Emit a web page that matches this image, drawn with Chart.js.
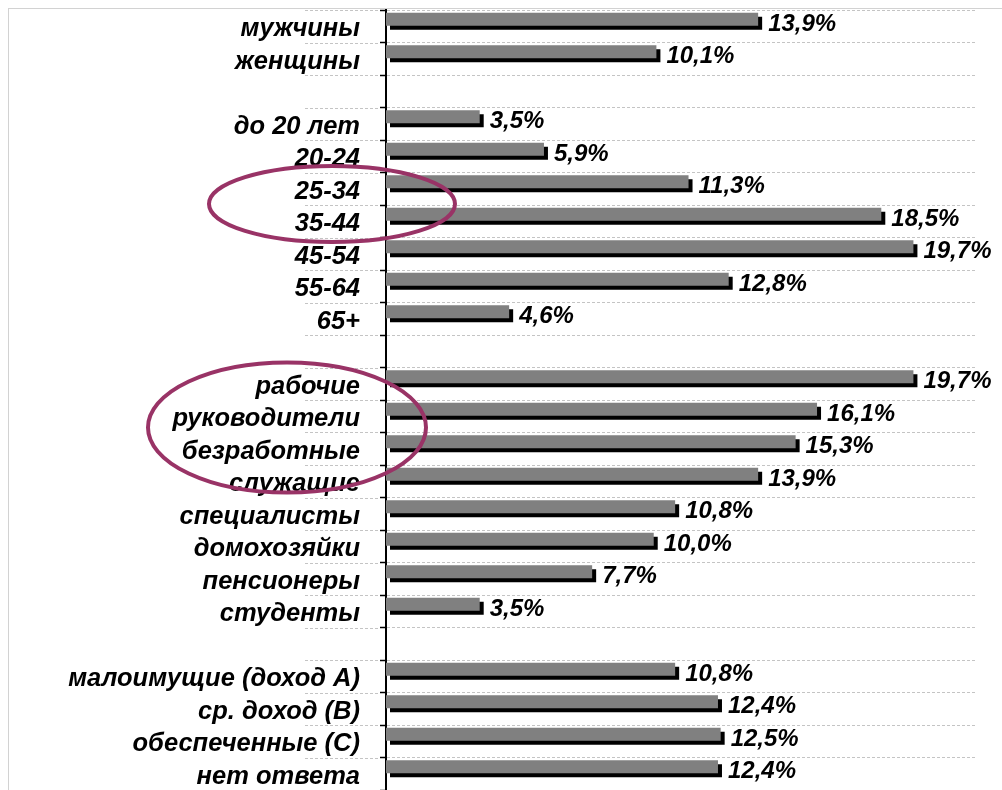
<!DOCTYPE html>
<html>
<head>
<meta charset="utf-8">
<script src="https://cdn.jsdelivr.net/npm/chart.js@4.4.1/dist/chart.umd.min.js"></script>
<style>
  html, body { margin: 0; padding: 0; background: #fff; }
  #wrap { position: relative; width: 1002px; height: 790px; overflow: hidden; }
  #frame { position: absolute; left: 8px; top: 8px; width: 1100px; height: 900px;
           border-left: 1px solid #d2d2d2; border-top: 1px solid #d2d2d2; }
  canvas { position: absolute; left: 0; top: 0; }
</style>
</head>
<body>
<div id="wrap">
  <div id="frame"></div>
  <canvas id="chart" width="1002" height="790"></canvas>
</div>
<script>
// Categories, top to bottom ('' = empty spacer row between groups)
const categories = [
    'мужчины', 'женщины', '',
    'до 20 лет', '20-24', '25-34', '35-44', '45-54', '55-64', '65+', '',
    'рабочие', 'руководители', 'безработные', 'служащие', 'специалисты',
    'домохозяйки', 'пенсионеры', 'студенты', '',
    'малоимущие (доход А)', 'ср. доход (В)', 'обеспеченные (С)', 'нет ответа'
];

// Share, %
const shares = [
    13.9, 10.1, null,
    3.5, 5.9, 11.3, 18.5, 19.7, 12.8, 4.6, null,
    19.7, 16.1, 15.3, 13.9, 10.8, 10.0, 7.7, 3.5, null,
    10.8, 12.4, 12.5, 12.4
];

// Highlighted groups (first and last category of each ellipse)
const highlights = [
    ['25-34', '35-44'],
    ['рабочие', 'служащие']
];

const fontFamily = '"Liberation Sans", Arial, sans-serif';
const valueFont = 'italic bold 24px ' + fontFamily;

// gray bars with a hard black drop shadow, sitting a little above the row centre
const barShadow = {
    id: 'barShadow',
    beforeDatasetsDraw(chart) {
        const ctx = chart.ctx;
        ctx.save();
        ctx.translate(0, -7);
        ctx.shadowColor = '#000';
        ctx.shadowBlur = 0;
        ctx.shadowOffsetX = 4;
        ctx.shadowOffsetY = 4;
    },
    afterDatasetsDraw(chart) {
        chart.ctx.restore();
    }
};

// dashed grid lines run on into the label column
const gridExtend = {
    id: 'gridExtend',
    beforeDatasetsDraw(chart) {
        const ctx = chart.ctx;
        const y = chart.scales.y;
        const left = chart.chartArea.left;
        ctx.save();
        ctx.strokeStyle = '#c4c4c4';
        ctx.lineWidth = 1;
        ctx.setLineDash([3, 2]);
        for (let i = 0; i <= categories.length; i++) {
            const py = Math.round(y.getPixelForValue(i - 0.5)) + 0.5;
            ctx.beginPath();
            ctx.moveTo(left - 81, py);
            ctx.lineTo(left - 7, py);
            ctx.stroke();
        }
        ctx.restore();
    }
};

// value labels like "13,9%"
const valueLabels = {
    id: 'valueLabels',
    afterDatasetsDraw(chart) {
        const ctx = chart.ctx;
        const meta = chart.getDatasetMeta(0);
        ctx.save();
        ctx.font = valueFont;
        ctx.fillStyle = '#000';
        ctx.textAlign = 'left';
        ctx.textBaseline = 'middle';
        meta.data.forEach((bar, i) => {
            const v = shares[i];
            if (v === null) return;
            ctx.fillText(v.toFixed(1).replace('.', ',') + '%', bar.x + 10, bar.y - 2);
        });
        ctx.restore();
    }
};

// purple ellipses around highlighted labels
const ellipses = {
    id: 'ellipses',
    afterDraw(chart) {
        const ctx = chart.ctx;
        const y = chart.scales.y;
        const left = chart.chartArea.left;
        const boxes = [
            { cx: left - 54, rx: 123, ry: 38, dy: -1 },
            { cx: left - 99, rx: 139, ry: 65, dy: -5 }
        ];
        ctx.save();
        ctx.strokeStyle = '#993366';
        ctx.lineWidth = 4;
        highlights.forEach((h, k) => {
            const y1 = y.getPixelForValue(categories.indexOf(h[0]));
            const y2 = y.getPixelForValue(categories.indexOf(h[1]));
            const b = boxes[k];
            ctx.beginPath();
            ctx.ellipse(b.cx, (y1 + y2) / 2 + b.dy, b.rx, b.ry, 0, 0, Math.PI * 2);
            ctx.stroke();
        });
        ctx.restore();
    }
};

new Chart(document.getElementById('chart'), {
    type: 'bar',
    data: {
        labels: categories,
        datasets: [{
            data: shares,
            backgroundColor: '#808080',
            borderWidth: 0,
            categoryPercentage: 0.8,
            barPercentage: 0.5
        }]
    },
    options: {
        indexAxis: 'y',
        responsive: false,
        animation: false,
        layout: { padding: { top: 10, right: 27, bottom: 0, left: 0 } },
        plugins: {
            legend: { display: false },
            tooltip: { enabled: false }
        },
        scales: {
            x: {
                display: false,
                min: 0,
                max: 22
            },
            y: {
                afterFit: (scale) => {
                    scale.width = 386;
                    scale.paddingTop = 0;
                    scale.paddingBottom = 0;
                },
                grid: {
                    color: '#c4c4c4',
                    lineWidth: 1,
                    offset: true,
                    tickColor: '#000',
                    tickLength: 6,
                    tickWidth: 1.5
                },
                border: {
                    color: '#000',
                    width: 2,
                    dash: [3, 2]
                },
                ticks: {
                    autoSkip: false,
                    color: '#000',
                    padding: 20,
                    labelOffset: 3,
                    font: { family: fontFamily, size: 25.5, style: 'italic', weight: 'bold' }
                }
            }
        }
    },
    plugins: [gridExtend, barShadow, valueLabels, ellipses]
});
</script>
</body>
</html>
